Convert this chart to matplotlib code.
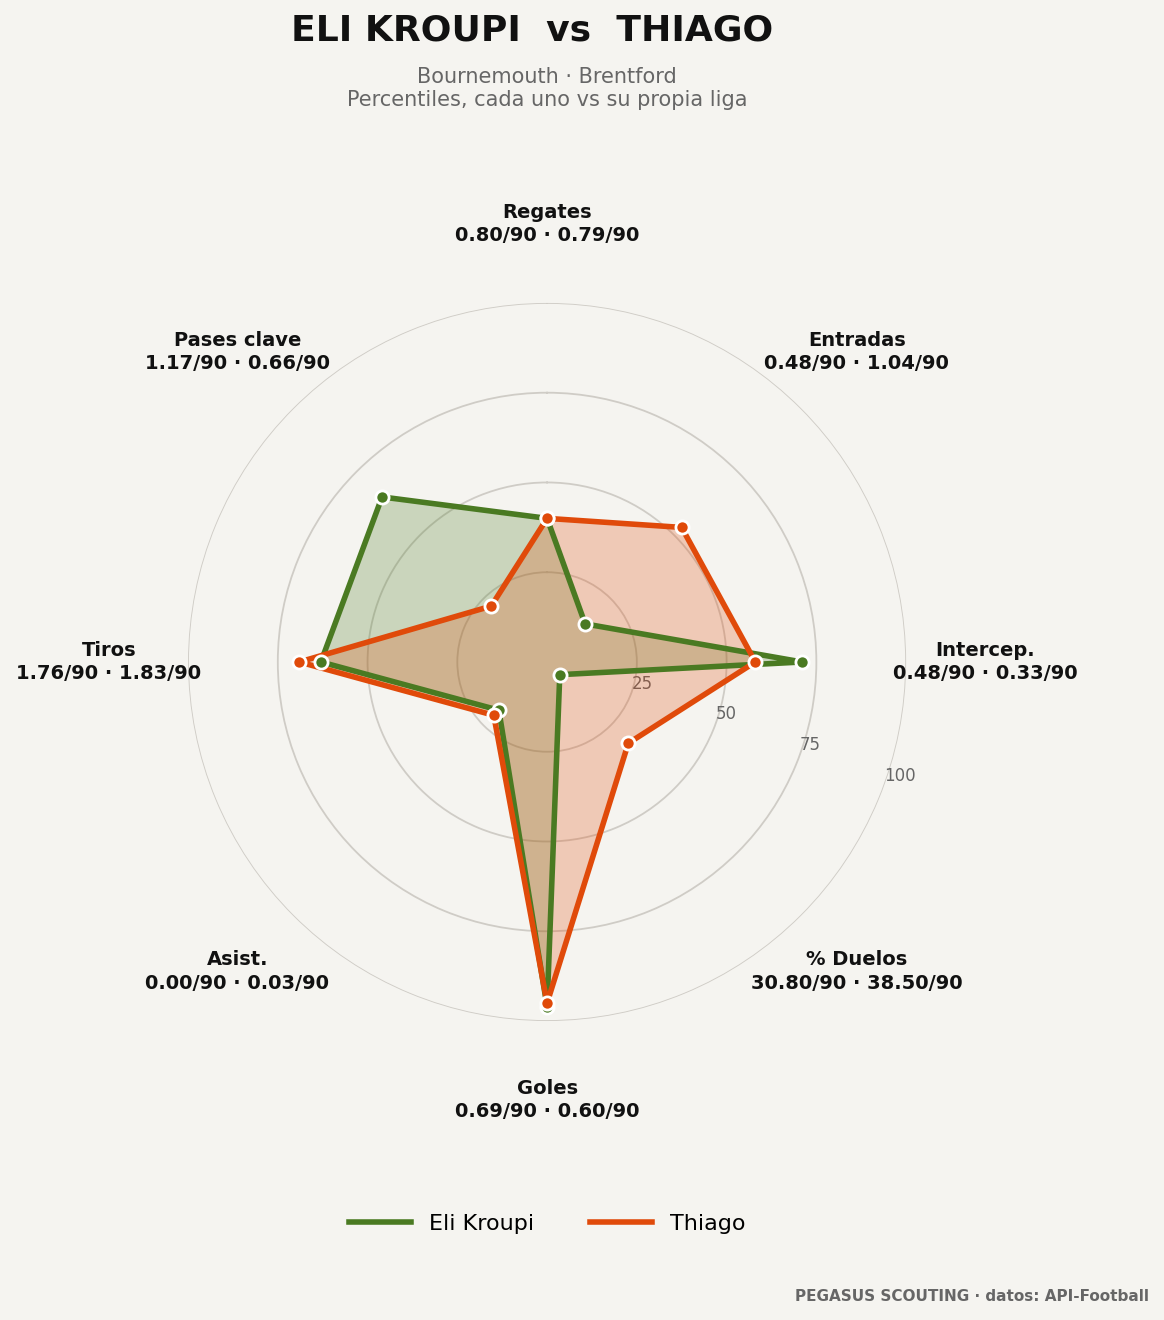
import numpy as np
import matplotlib.pyplot as plt
from matplotlib.lines import Line2D

categories = ["Regates", "Entradas", "Intercep.", "% Duelos", "Goles", "Asist.", "Tiros", "Pases clave"]
per90_a = ["0.80/90", "0.48/90", "0.48/90", "30.80/90", "0.69/90", "0.00/90", "1.76/90", "1.17/90"]
per90_b = ["0.79/90", "1.04/90", "0.33/90", "38.50/90", "0.60/90", "0.03/90", "1.83/90", "0.66/90"]
kroupi = [40, 15, 71, 5, 96, 19, 63, 65]
thiago = [40, 53, 58, 32, 95, 21, 69, 22]

BG = "#f5f4f0"
GREEN = "#4a7a22"
ORANGE = "#e04a0a"

fig = plt.figure(figsize=(11.64, 13.2), dpi=100, facecolor=BG)
ax = fig.add_axes([0.1615, 0.2265, 0.617, 0.544], polar=True)
ax.set_facecolor(BG)
ax.set_theta_zero_location("N")
ax.set_theta_direction(-1)

theta = np.linspace(0, 2 * np.pi, len(categories), endpoint=False)
th = np.append(theta, theta[0])

for vals, col in [(kroupi, GREEN), (thiago, ORANGE)]:
    v = np.append(vals, vals[0])
    ax.fill(th, v, color=col, alpha=0.25, zorder=2)
    ax.plot(th, v, color=col, lw=4, zorder=3)
    ax.scatter(theta, vals, s=90, color=col, edgecolor="white", linewidth=2, zorder=4)

ax.set_ylim(0, 100)
ax.set_yticks([25, 50, 75, 100])
ax.set_yticklabels(["25", "50", "75", "100"], color="#666666", fontsize=12)
ax.set_rlabel_position(110)
ax.set_xticks(theta)
ax.set_xticklabels([])
ax.xaxis.grid(False)
ax.yaxis.grid(True, color="#cfccc6", lw=1.3)
ax.spines["polar"].set_visible(False)

for t, c, a, b in zip(theta, categories, per90_a, per90_b):
    ax.text(t, 122, f"{c}\n{a} · {b}", ha="center", va="center",
            fontsize=14, fontweight="bold", color="#111111", linespacing=1.3)

fig.text(0.457, 0.977, "ELI KROUPI  vs  THIAGO", ha="center", va="center",
         fontsize=26, fontweight="bold", color="#111111")
fig.text(0.47, 0.933, "Bournemouth · Brentford\nPercentiles, cada uno vs su propia liga",
         ha="center", va="center", fontsize=15, color="#666666", linespacing=1.2)

handles = [Line2D([], [], color=GREEN, lw=4), Line2D([], [], color=ORANGE, lw=4)]
fig.legend(handles, ["Eli Kroupi", "Thiago"], loc="center", bbox_to_anchor=(0.47, 0.0727),
           ncol=2, frameon=False, fontsize=16, handlelength=2.8, columnspacing=2.5)

fig.text(0.987, 0.018, "PEGASUS SCOUTING · datos: API-Football", ha="right", va="center",
         fontsize=11, fontweight="bold", color="#666666")

fig.savefig("out.png", facecolor=BG)
